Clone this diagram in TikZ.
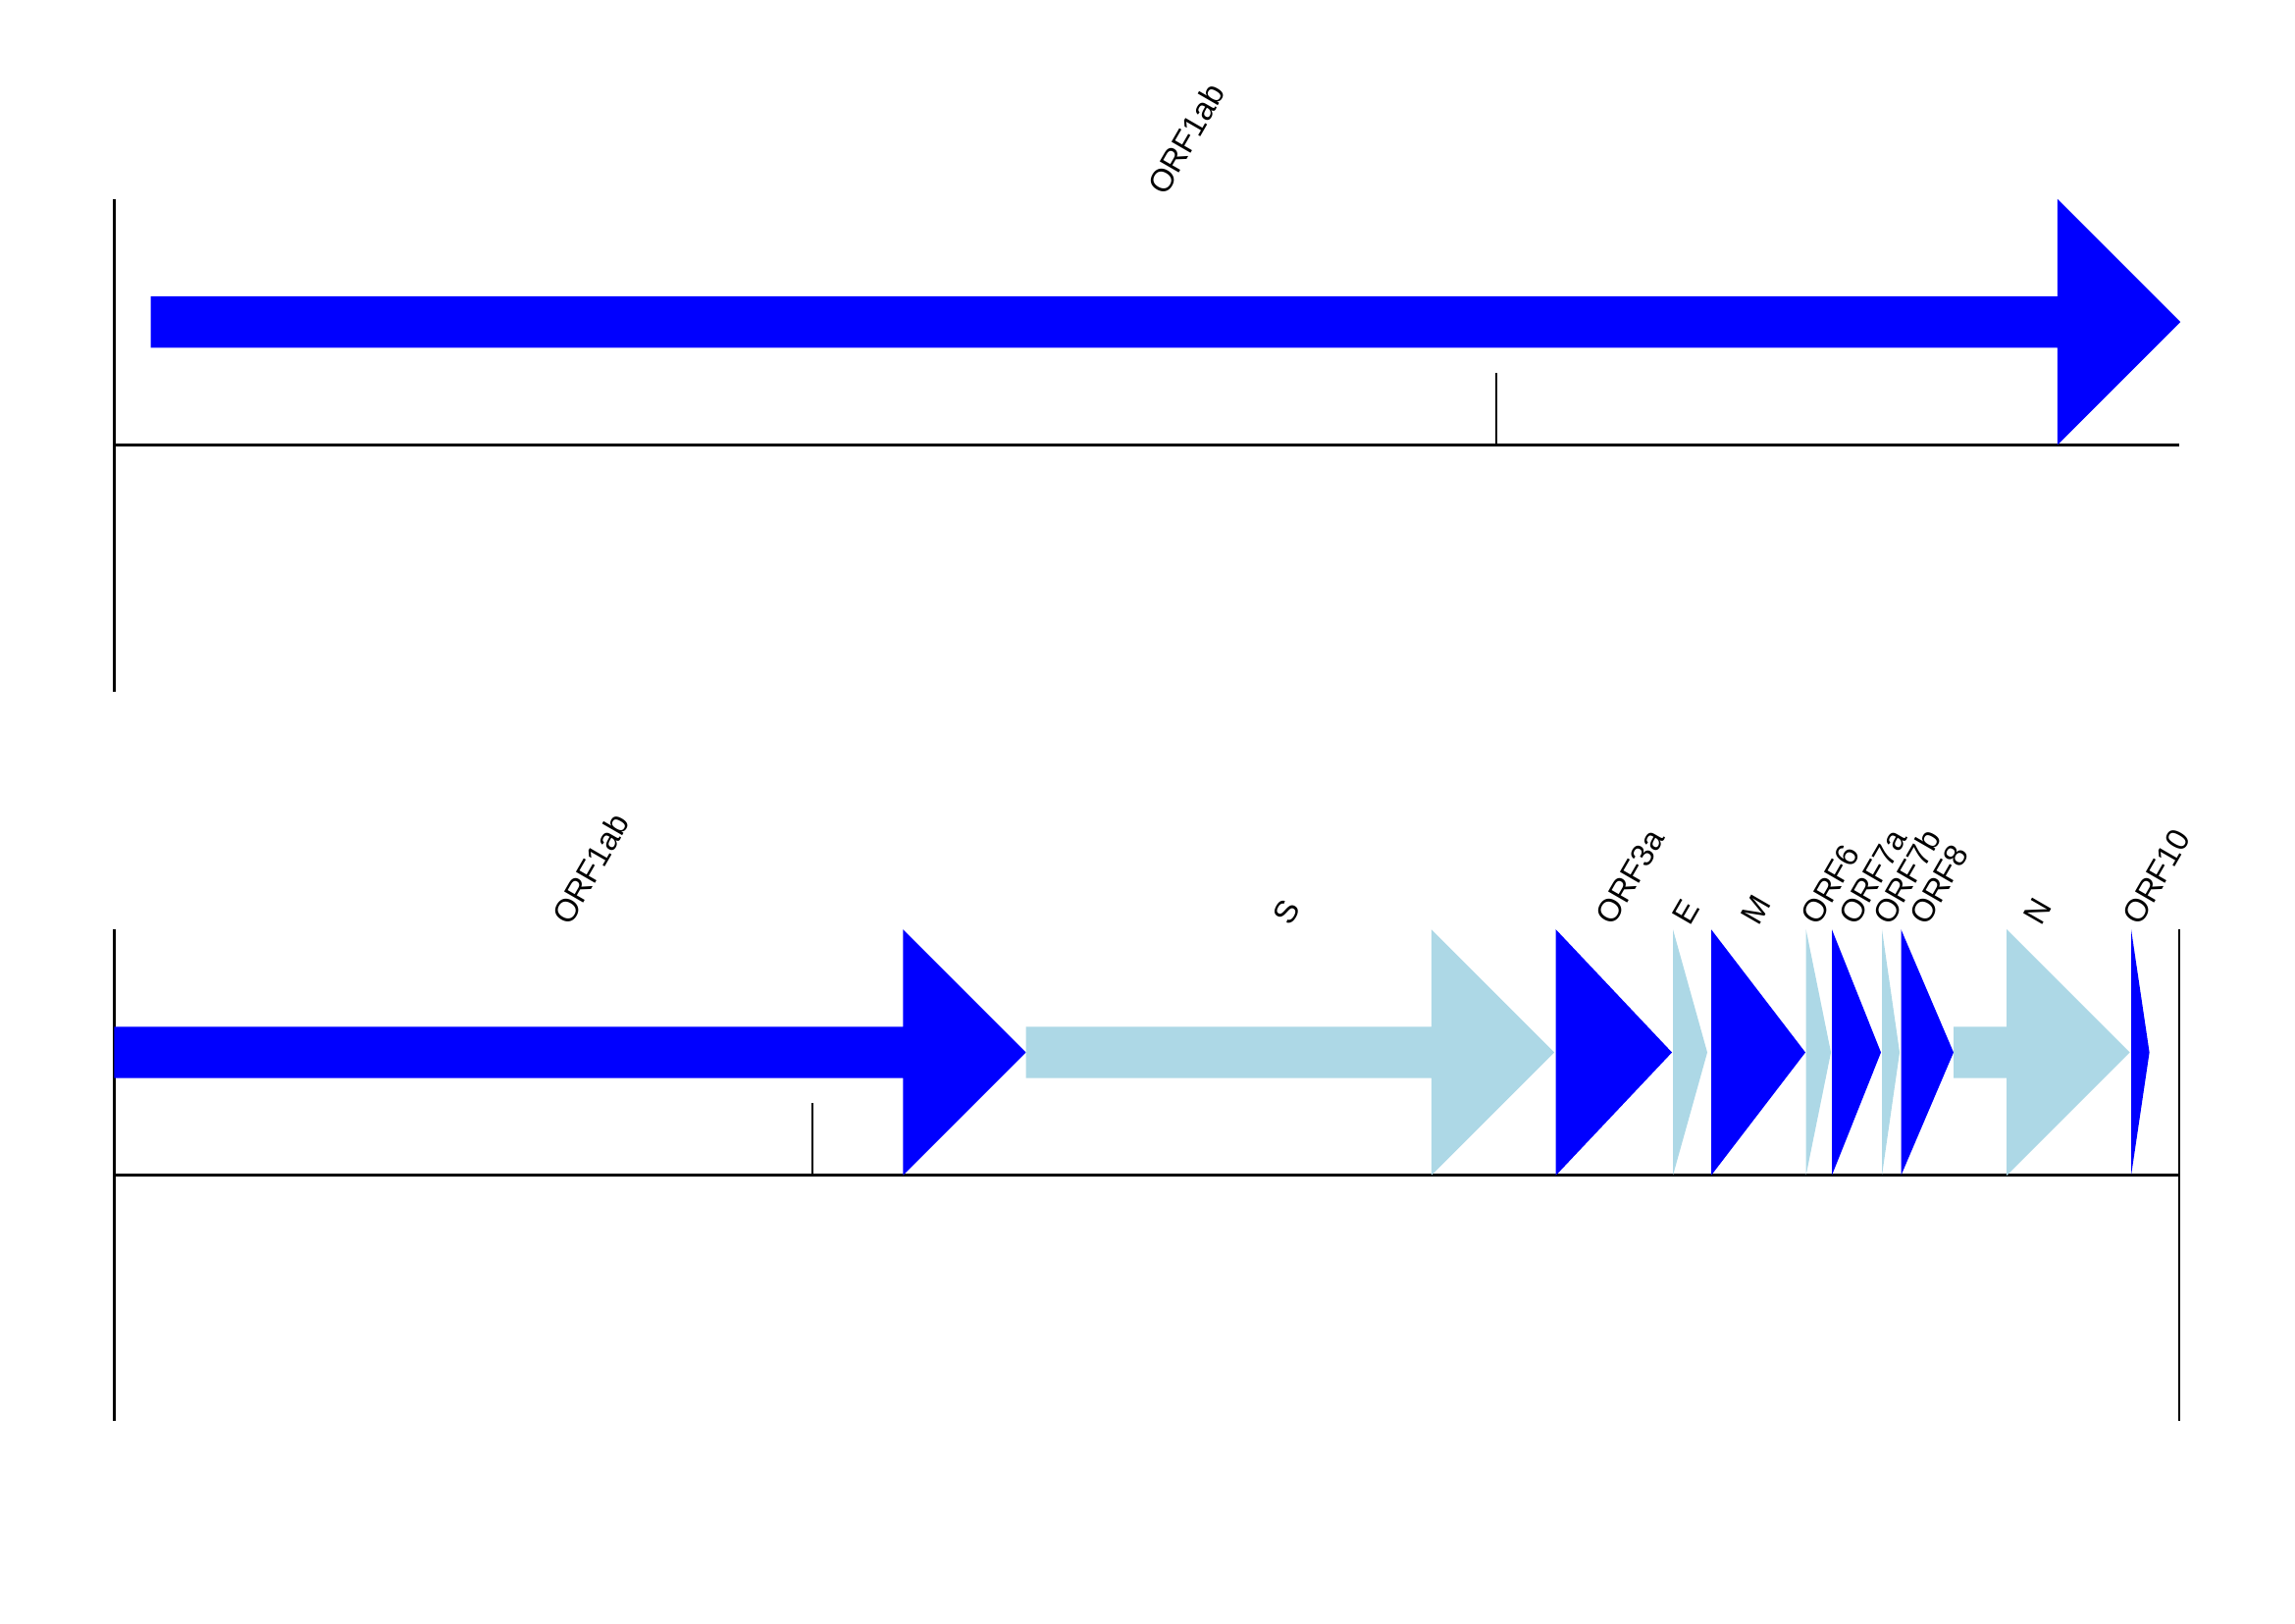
\documentclass[tikz,border=0pt]{standalone}
\usepackage{fontspec}
\setmainfont{Liberation Sans}
\definecolor{geneblue}{RGB}{0,0,255}
\definecolor{genelight}{RGB}{173,216,230}
\newcommand\longgene[4]{\fill[#4] (#1,{#3-26.1}) -- ({#2-125.3},{#3-26.1}) -- ({#2-125.3},{#3-125.3}) -- (#2,#3) -- ({#2-125.3},{#3+125.3}) -- ({#2-125.3},{#3+26.1}) -- (#1,{#3+26.1}) -- cycle;}
\newcommand\shortgene[4]{\fill[#4] (#1,{#3-125.3}) -- (#2,#3) -- (#1,{#3+125.3}) -- cycle;}
\begin{document}
\begin{tikzpicture}[x=1pt,y=-1pt,
  axisline/.style={draw=black,line width=2.6pt},
  baseln/.style={draw=black,line width=3pt},
  tickln/.style={draw=black,line width=2pt},
  lab/.style={rotate=60,anchor=base west,inner sep=0pt,font=\fontsize{32.6}{38}\selectfont}]
\useasboundingbox (0,0) rectangle (2339,1654);
\fill[white] (0,0) rectangle (2339,1654);
% ---------- top panel ----------
\coordinate (t1) at (116.4,202.9);
\coordinate (t2) at (116.4,704.5);
\coordinate (b1) at (116.4,453.5);
\coordinate (b2) at (2221,453.5);
\coordinate (k1) at (1524.5,453.5);
\coordinate (k2) at (1524.5,380);
\draw[axisline] (t1) -- (t2);
\draw[tickln] (k1) -- (k2);
\draw[baseln] (b1) -- (b2);
\longgene{153.6}{2222.2}{328.2}{geneblue}
\node[lab] (labA) at ({(153.6+2222.2)/2},201) {ORF1ab};
% ---------- bottom panel ----------
\coordinate (u1) at (116.4,947.2);
\coordinate (u2) at (116.4,1448.4);
\coordinate (v1) at (2221,947.2);
\coordinate (v2) at (2221,1448.4);
\coordinate (c1) at (116.4,1197.8);
\coordinate (c2) at (2221,1197.8);
\coordinate (m1) at (827.9,1197.8);
\coordinate (m2) at (827.9,1123.5);
\draw[axisline] (u1) -- (u2);
\draw[axisline] (v1) -- (v2);
\draw[tickln] (m1) -- (m2);
\draw[baseln] (c1) -- (c2);
\longgene{116.4}{1045.7}{1072.5}{geneblue}
\longgene{1045.7}{1584.2}{1072.5}{genelight}
\shortgene{1585.7}{1704}{1072.5}{geneblue}
\shortgene{1705}{1740}{1072.5}{genelight}
\shortgene{1744}{1840}{1072.5}{geneblue}
\shortgene{1840.6}{1866}{1072.5}{genelight}
\shortgene{1867}{1917}{1072.5}{geneblue}
\shortgene{1918}{1936}{1072.5}{genelight}
\shortgene{1937.5}{1991}{1072.5}{geneblue}
\longgene{1991}{2170.5}{1072.5}{genelight}
\shortgene{2172}{2190.6}{1072.5}{geneblue}
\node[lab] (lb1) at ({(116.4+1045.7)/2},945) {ORF1ab};
\node[lab] (lb2) at ({(1045.7+1584.2)/2},945) {S};
\node[lab] (lb3) at ({(1585.7+1704)/2},945) {ORF3a};
\node[lab] (lb4) at ({(1705+1740)/2},945) {E};
\node[lab] (lb5) at ({(1744+1840)/2},945) {M};
\node[lab] (lb6) at ({(1840.6+1866)/2},945) {ORF6};
\node[lab] (lb7) at ({(1867+1917)/2},945) {ORF7a};
\node[lab] (lb8) at ({(1918+1936)/2},945) {ORF7b};
\node[lab] (lb9) at ({(1937.5+1991)/2},945) {ORF8};
\node[lab] (lb10) at ({(1991+2170.5)/2},945) {N};
\node[lab] (lb11) at ({(2172+2190.6)/2},945) {ORF10};
\end{tikzpicture}
\end{document}
